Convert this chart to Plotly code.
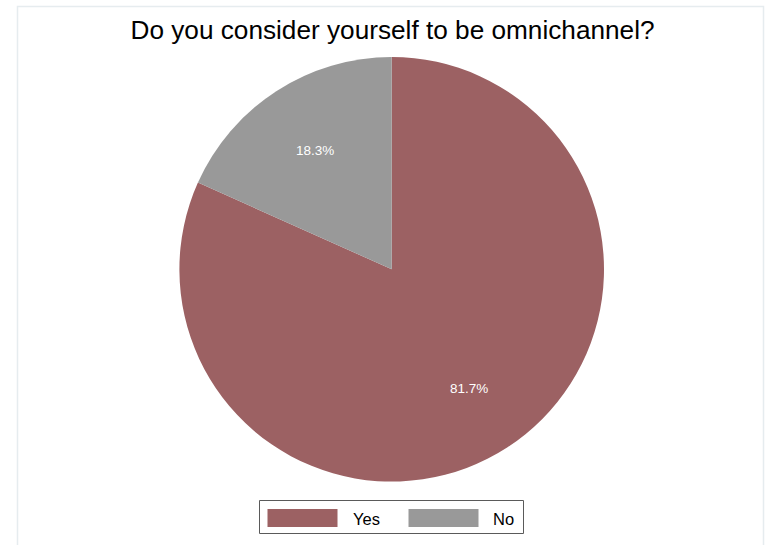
import math
import plotly.graph_objects as go

# Survey responses
labels = ["Yes", "No"]
shares = [81.7, 18.3]
colors = ["#9c6163", "#999999"]
title_text = "Do you consider yourself to be omnichannel?"

W, H = 767, 545
FONT = "Liberation Sans, Arial, Helvetica, sans-serif"

# Pie placement (pixels): centre and radius
cx, cy, R = 391.7, 269.3, 212.3
dom_x = [(cx - R) / W, (cx + R) / W]
dom_y = [1 - (cy + R) / H, 1 - (cy - R) / H]

fig = go.Figure(
    go.Pie(
        labels=labels,
        values=shares,
        sort=False,
        direction="clockwise",
        rotation=0,
        marker=dict(colors=colors, line=dict(width=0)),
        textinfo="none",
        hoverinfo="label+percent",
        showlegend=False,
        domain=dict(x=dom_x, y=dom_y),
    )
)

# Percentage labels placed at two thirds of the radius along each slice's mid-angle
annotations = []
total = sum(shares)
start = 0.0
for lab, val in zip(labels, shares):
    frac = val / total
    mid = (start + frac / 2) * 2 * math.pi  # clockwise from 12 o'clock
    r = 0.667 * R
    px = cx + r * math.sin(mid)
    py = cy - r * math.cos(mid)
    annotations.append(dict(
        x=px / W, y=1 - py / H, xref="paper", yref="paper",
        text=f"{val:.1f}%", showarrow=False,
        font=dict(family=FONT, size=13.5, color="white"),
        xanchor="center", yanchor="middle",
    ))
    start += frac

# Legend drawn as a framed row of wide swatches
shapes = []
box = (259.5, 500.5, 523.5, 533.5)
shapes.append(dict(type="rect", xref="paper", yref="paper",
                   x0=box[0] / W, x1=box[2] / W, y0=1 - box[3] / H, y1=1 - box[1] / H,
                   line=dict(color="#5a5a5a", width=1), fillcolor="white"))
swatch_x = [267.5, 408.5]
text_x = [350.5, 490.5]
for lab, col, sx, tx in zip(labels, colors, swatch_x, text_x):
    shapes.append(dict(type="rect", xref="paper", yref="paper",
                       x0=sx / W, x1=(sx + 70) / W, y0=1 - 527 / H, y1=1 - 509 / H,
                       line=dict(width=0), fillcolor=col))
    annotations.append(dict(
        x=tx / W, y=1 - 518.5 / H, xref="paper", yref="paper",
        text=lab, showarrow=False, xanchor="left", yanchor="middle",
        font=dict(family=FONT, size=16.5, color="black"),
    ))

# Faint outer frame
shapes.append(dict(type="rect", xref="paper", yref="paper",
                   x0=17.5 / W, x1=763.5 / W, y0=-0.02, y1=1 - 6.5 / H,
                   line=dict(color="#e6ecef", width=1.5)))

fig.update_layout(
    width=W, height=H,
    margin=dict(l=0, r=0, t=0, b=0),
    paper_bgcolor="white",
    plot_bgcolor="white",
    title=dict(text=title_text, x=392.5 / W, xanchor="center",
               y=1 - 29.5 / H, yanchor="middle", yref="container",
               font=dict(family=FONT, size=26.2, color="black")),
    annotations=annotations,
    shapes=shapes,
)

fig.write_html("out.html")
